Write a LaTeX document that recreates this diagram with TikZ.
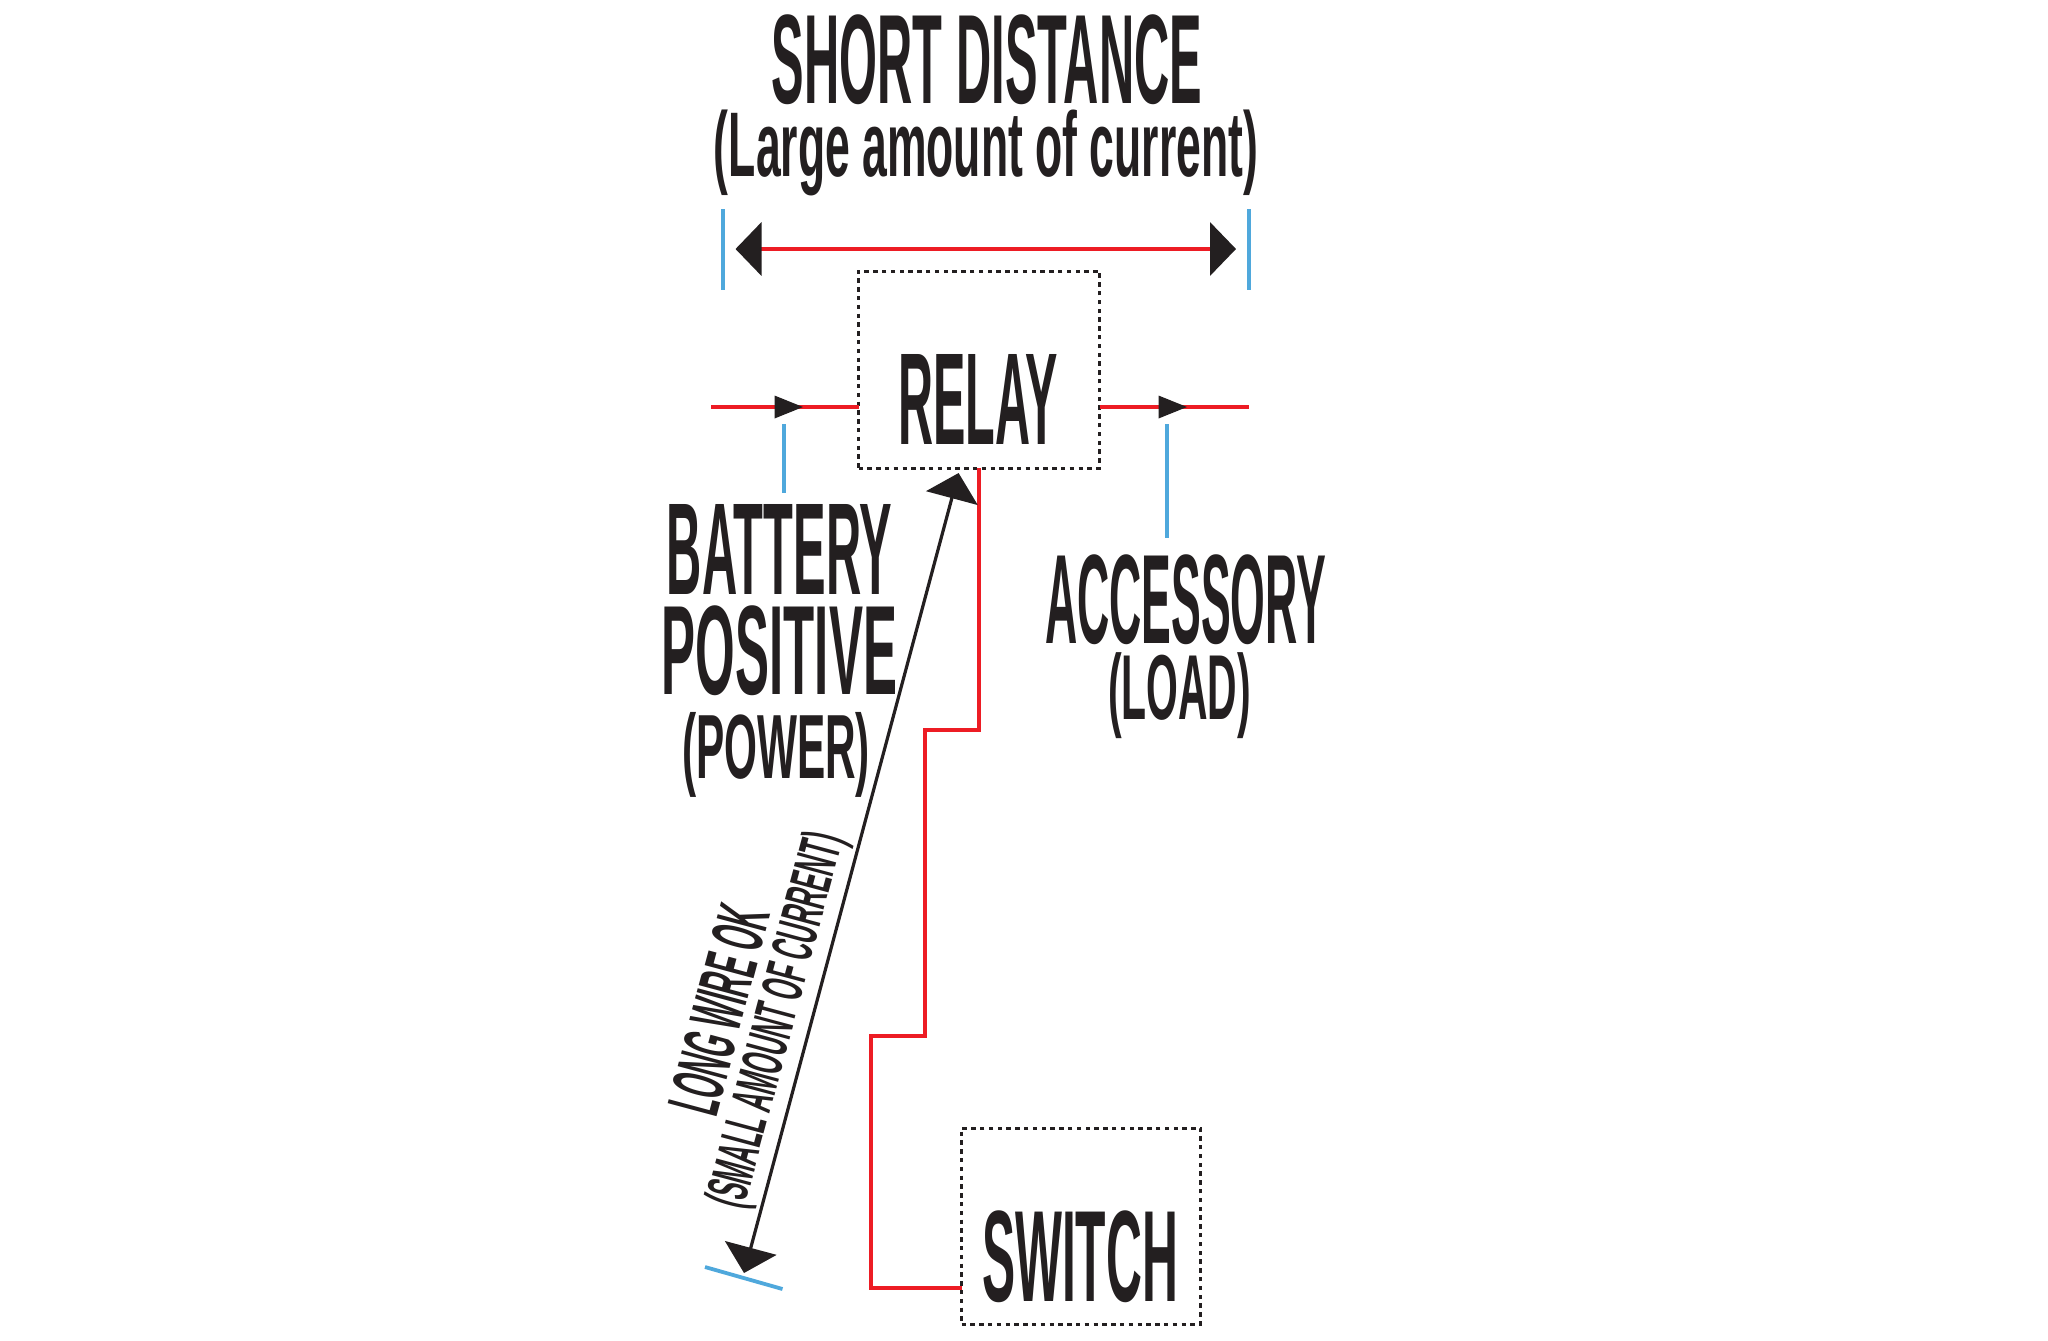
\documentclass[tikz,border=0pt]{standalone}
\usepackage{fontspec}
\usepackage{graphicx}
\setmainfont{Liberation Sans}
\usetikzlibrary{arrows.meta}
\definecolor{wirered}{HTML}{ED1C24}
\definecolor{tickblue}{HTML}{4FA8DC}
\definecolor{inkblack}{HTML}{231F20}
% width and total height in reference pixels (1 px = 0.5 pt)
\newcommand{\fitbox}[3]{\resizebox*{\dimexpr#1pt/2\relax}{\dimexpr#2pt/2\relax}{\bfseries #3}}
\tikzset{
  wire/.style={draw=wirered,line width=2pt},
  tick/.style={draw=tickblue,line width=1.9pt},
  longwire/.style={draw=inkblack,line width=1.6pt},
  dotbox/.style={draw=inkblack,line width=1.5pt,dash pattern=on 2.2pt off 2.2pt,inner sep=0pt,outer sep=0pt,fill=white},
  word/.style={text=inkblack,inner sep=0pt,outer sep=0pt}
}
\begin{document}
\begin{tikzpicture}[x=0.5pt,y=-0.5pt]
\useasboundingbox[fill=white] (0,0) rectangle (2048,1340);

% boxes
\node[dotbox,minimum width=120.5pt,minimum height=98.5pt] (relaybox) at (979,369.5) {};
\node[dotbox,minimum width=119.5pt,minimum height=98pt] (switchbox) at (1081,1226) {};

% words
\node[word] (title) at (987,60) {\fitbox{430}{90}{SHORT DISTANCE}};
\node[word] (subtitle) at (986,153) {\fitbox{544}{86}{(Large amount of current)}};
\node[word] (relay) at (978,399) {\fitbox{160}{90}{RELAY}};
\node[word] (switch) at (1080,1257) {\fitbox{196}{92}{SWITCH}};
\node[word] (battery) at (779.5,549) {\fitbox{225}{90}{BATTERY}};
\node[word] (positive) at (779.5,651) {\fitbox{235}{90}{POSITIVE}};
\node[word] (power) at (776,754.5) {\fitbox{188}{85}{(POWER)}};
\node[word] (accessory) at (1185.5,600) {\fitbox{281}{90}{ACCESSORY}};
\node[word] (load) at (1179.5,696) {\fitbox{143}{86}{(LOAD)}};
\node[word,rotate=75] (longok) at (719,1010) {\fitbox{212}{52}{LONG WIRE OK}};
\node[word,rotate=75] (smallamount) at (779,1021) {\fitbox{385}{54}{(SMALL AMOUNT OF CURRENT)}};

% free ends
\coordinate (spanL) at (723,209);
\coordinate (spanLb) at (723,290);
\coordinate (spanR) at (1249,209);
\coordinate (spanRb) at (1249,290);
\coordinate (tipL) at (735.5,249);
\coordinate (tipR) at (1236,249);
\coordinate (batIn) at (711,407);
\coordinate (batTip) at (803,407);
\coordinate (accTip) at (1187,407);
\coordinate (accOut) at (1249,407);
\coordinate (batT) at (784,424);
\coordinate (batB) at (784,493);
\coordinate (accT) at (1167,424);
\coordinate (accB) at (1167,538);
\coordinate (longTop) at (958.6,473);
\coordinate (longBot) at (744,1273);
\coordinate (footA) at (705,1267);
\coordinate (footB) at (782.5,1289);

% blue ticks
\draw[tick] (spanL) -- (spanLb);
\draw[tick] (spanR) -- (spanRb);
\draw[tick] (batT) -- (batB);
\draw[tick] (accT) -- (accB);
\draw[tick] (footA) -- (footB);

% red wires
\draw[wire,{Triangle[length=13pt,width=26.5pt,color=inkblack]}-{Triangle[length=13pt,width=26.5pt,color=inkblack]}] (tipL) -- (tipR);
\draw[wire] (batIn) -- (relaybox.west |- batIn);
\draw[wire] (relaybox.east |- accOut) -- (accOut);
\draw[wire,line join=miter] (relaybox.south) -- (979,730) -- (925,730) -- (925,1036) -- (871,1036) -- (871,1288) -- (switchbox.west |- 0,1288);

% in-line arrowheads
\fill[inkblack] (batTip) -- ++(-28.5,-11.5) -- ++(0,23) -- cycle;
\fill[inkblack] (accTip) -- ++(-28.5,-11.5) -- ++(0,23) -- cycle;

% long wire
\draw[longwire,{Triangle[length=13pt,width=26.5pt,color=inkblack]}-{Triangle[length=13pt,width=26.5pt,color=inkblack]}] (longTop) -- (longBot);
\end{tikzpicture}
\end{document}
